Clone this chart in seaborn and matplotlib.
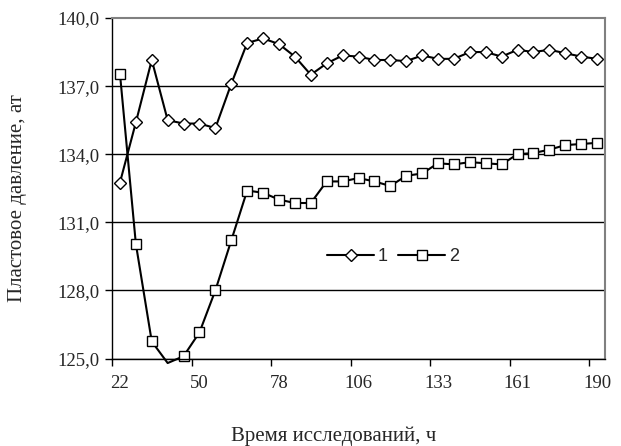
import matplotlib
matplotlib.use("Agg")
import matplotlib.pyplot as plt
import seaborn as sns

# pressure readings, 31 measurements (categories)
series1 = [132.75, 135.4, 138.15, 135.5, 135.35, 135.35, 135.15, 137.1, 138.9, 139.1,
           138.85, 138.3, 137.5, 138.0, 138.35, 138.3, 138.15, 138.15, 138.1, 138.35,
           138.2, 138.2, 138.5, 138.5, 138.3, 138.6, 138.5, 138.6, 138.45, 138.3, 138.2]
series2 = [137.55, 130.05, 125.75, 124.8, 125.1, 126.15, 128.0, 130.2, 132.4, 132.3,
           132.0, 131.85, 131.85, 132.8, 132.8, 132.95, 132.8, 132.6, 133.05, 133.15,
           133.6, 133.55, 133.65, 133.6, 133.55, 134.0, 134.05, 134.2, 134.4, 134.45, 134.5]
hour_labels = ["22", "50", "78", "106", "133", "161", "190"]
y_ticks = [125, 128, 131, 134, 137, 140]

idx = list(range(len(series1)))

sns.set_style("white")
plt.rcParams["font.family"] = ["Liberation Serif", "DejaVu Serif"]

fig = plt.figure(figsize=(6.21, 4.46), dpi=100)
ax = fig.add_axes([112 / 621, 1 - 358.5 / 446, 493 / 621, 340.5 / 446])

for v in y_ticks[:-1]:
    ax.axhline(v, color="black", lw=1.0, zorder=0)

common = dict(color="black", linewidth=1.5, markerfacecolor="white",
              markeredgecolor="black", markeredgewidth=1.0, clip_on=False)
sns.lineplot(x=idx, y=series1, marker="D", markersize=6.3, label="1", ax=ax, **common)
shown = [i for i, v in enumerate(series2) if v >= y_ticks[0]]
sns.lineplot(x=idx, y=series2, marker="s", markersize=6.8, markevery=shown, label="2",
             ax=ax, **common)

ax.set_xlim(-0.5, len(idx) - 0.5)
ax.set_ylim(y_ticks[0], y_ticks[-1])

ax.set_yticks(y_ticks)
ax.set_yticklabels([f"{v:.1f}".replace(".", ",") for v in y_ticks], fontsize=13.5)
ax.tick_params(axis="y", length=5, width=1, color="black", direction="out", left=True, pad=4)

ax.set_xticks([i - 0.5 for i in range(0, len(idx), 5)])
ax.set_xticklabels([])
ax.set_xticks(list(range(0, len(idx), 5)), minor=True)
ax.set_xticklabels(hour_labels, minor=True, fontsize=13.5)
ax.tick_params(axis="x", which="major", length=5, width=1, color="black", direction="out", bottom=True)
ax.tick_params(axis="x", which="minor", length=0, pad=12)

for s in ["left", "bottom"]:
    ax.spines[s].set_color("black")
    ax.spines[s].set_linewidth(1.0)
for s in ["top", "right"]:
    ax.spines[s].set_color("#808080")
    ax.spines[s].set_linewidth(1.5)

ax.set_xlabel("Время исследований, ч", fontsize=15)
ax.xaxis.set_label_coords(0.45, -0.2)
ax.set_ylabel("Пластовое давление, ат", fontsize=15)
ax.yaxis.set_label_coords(-0.172, 0.47)

ax.legend(loc="center", bbox_to_anchor=(0.57, 0.3), ncol=2, frameon=False,
          prop={"family": "Liberation Sans", "size": 13}, handlelength=2.6,
          handletextpad=0.2, columnspacing=0.6)

fig.savefig("out.png", dpi=100)
